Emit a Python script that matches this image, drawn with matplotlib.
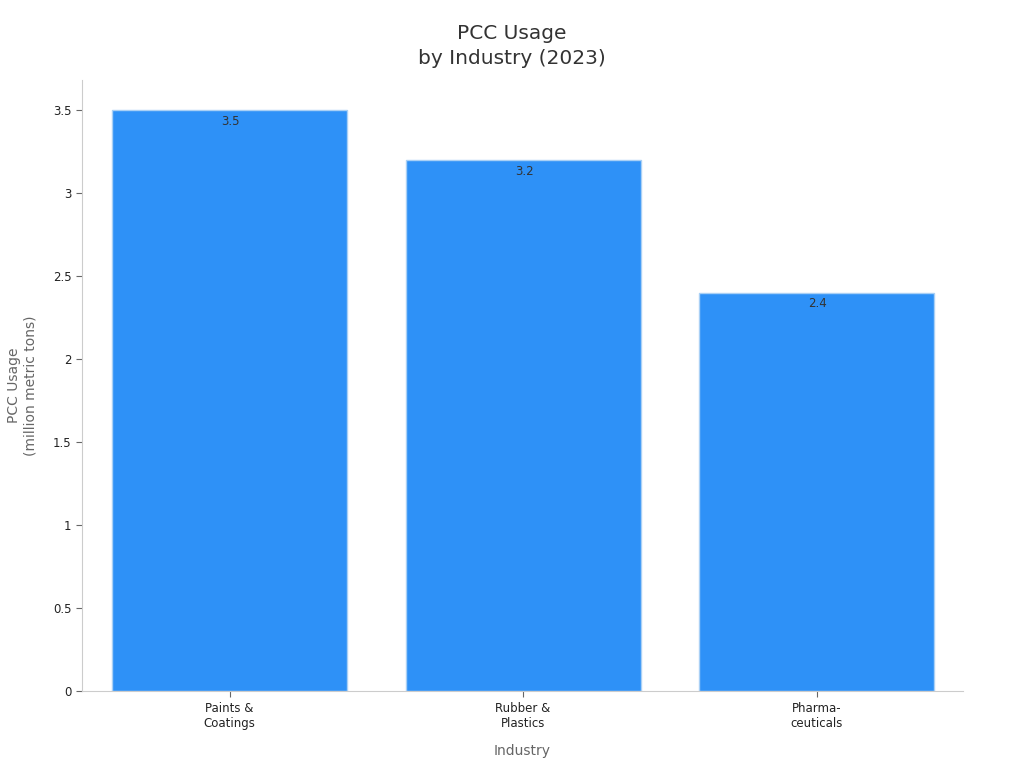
import matplotlib
matplotlib.use("Agg")
import matplotlib.pyplot as plt

categories = ["Paints &\nCoatings", "Rubber &\nPlastics", "Pharma-\nceuticals"]
values = [3.5, 3.2, 2.4]
yticks = [0, 0.5, 1, 1.5, 2, 2.5, 3, 3.5]
ytick_labels = ["0", "0.5", "1", "1.5", "2", "2.5", "3", "3.5"]

plt.rcParams['font.family'] = ['DejaVu Sans']
fig = plt.figure(figsize=(10.24, 7.68), dpi=100)
ax = fig.add_axes([0.080, 0.100, 0.860, 0.796])

x = range(len(categories))
bars = ax.bar(x, values, width=0.8, color="#2E91F7", edgecolor="#A9D0F5", linewidth=1)
for xi, v in zip(x, values):
    ax.text(xi + 0.003, v - 0.03, f"{v}", ha="center", va="top", fontsize=8.5, color="#333333")

ax.set_xlim(-0.503, 2.497)
ax.set_ylim(0, 3.68)
ax.set_xticks(list(x))
ax.set_xticklabels(categories, fontsize=8.5, color="#222222")
ax.set_yticks(yticks)
ax.set_yticklabels(ytick_labels, fontsize=8.5, color="#222222")
ax.tick_params(axis="both", color="#666666", length=4)

for s in ["top", "right"]:
    ax.spines[s].set_visible(False)
for s in ["left", "bottom"]:
    ax.spines[s].set_color("#CCCCCC")

ax.set_xlabel("Industry", fontsize=10, color="#666666", labelpad=10)
ax.set_ylabel("PCC Usage\n(million metric tons)", fontsize=10, color="#666666", labelpad=11)
fig.text(0.5, 0.940, "PCC Usage\nby Industry (2023)", fontsize=14.5, color="#333333",
         ha="center", va="center", linespacing=1.42)

fig.savefig("out.png", dpi=100)
